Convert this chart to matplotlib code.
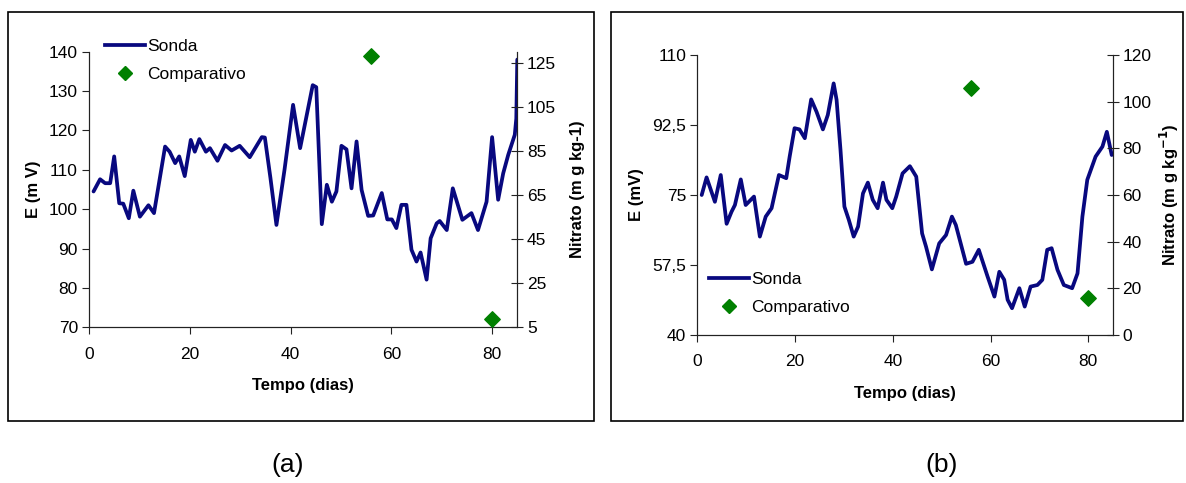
import matplotlib.pyplot as plt
from matplotlib.lines import Line2D
from matplotlib.patches import Rectangle

plt.rcParams['font.family'] = ['Liberation Sans', 'DejaVu Sans']

# painel (a)
dias_a = [0.9, 2.2, 3.2, 4.2, 5.0, 6.0, 6.8, 7.9, 8.8, 10.1, 11.8, 12.9, 15.1, 16.0,
          17.1, 17.9, 19.0, 20.2, 21.0, 21.9, 23.2, 24.0, 25.5, 27.0, 28.3, 29.9,
          31.9, 34.3, 34.9, 36.0, 37.2, 38.8, 40.5, 41.9, 44.4, 45.1, 46.2, 47.2,
          48.2, 49.1, 50.1, 51.1, 52.1, 53.1, 54.1, 55.4, 56.4, 58.1, 59.2, 60.1,
          61.0, 62.0, 63.0, 64.0, 65.0, 65.8, 67.0, 67.8, 69.0, 69.6, 71.0, 72.2,
          74.1, 75.9, 77.2, 78.9, 80.0, 81.2, 82.2, 83.2, 84.5, 84.8, 85.0]
sonda_a = [104.5, 107.6, 106.6, 106.6, 113.4, 101.5, 101.4, 97.7, 104.7, 98.1, 101.0,
           99.0, 115.9, 114.6, 111.7, 113.4, 108.4, 117.6, 114.6, 117.8, 114.6, 115.5,
           112.3, 116.3, 114.9, 116.1, 113.2, 118.3, 118.2, 108.0, 96.0, 110.0, 126.5,
           115.5, 131.5, 131.0, 96.2, 106.2, 101.9, 104.5, 116.1, 115.2, 105.3, 117.2,
           104.9, 98.3, 98.4, 104.1, 97.4, 97.4, 95.2, 101.1, 101.1, 89.7, 86.7, 89.0,
           82.1, 92.6, 96.4, 97.0, 94.7, 105.3, 97.3, 99.0, 94.7, 101.9, 118.3, 102.4,
           109.1, 113.8, 118.9, 123.0, 138.0]
comp_dias_a = [56, 80]
comp_a = [128, 8.7]

# painel (b)
dias_b = [0.9, 1.9, 3.6, 4.8, 6.0, 7.0, 7.7, 8.9, 9.9, 11.6, 12.8, 14.0, 15.2, 16.7,
          18.2, 18.9, 19.9, 20.9, 22.0, 23.3, 24.4, 25.7, 26.7, 27.9, 28.5, 29.3,
          30.1, 31.0, 32.0, 32.9, 33.9, 34.9, 35.9, 36.9, 38.0, 38.7, 39.9, 40.7,
          42.0, 43.5, 44.8, 46.0, 46.8, 48.0, 49.5, 50.9, 52.1, 52.9, 55.0, 56.3,
          57.6, 59.4, 60.8, 61.8, 62.8, 63.5, 64.4, 65.9, 67.0, 68.2, 69.6, 70.6,
          71.6, 72.5, 73.7, 75.0, 76.7, 77.8, 78.8, 79.8, 81.5, 82.9, 83.8, 84.8]
sonda_b = [75.0, 79.4, 73.3, 80.0, 67.8, 70.8, 72.5, 78.9, 72.5, 74.6, 64.6, 69.6,
           71.7, 80.0, 79.2, 84.6, 91.7, 91.4, 89.2, 98.9, 95.8, 91.4, 95.0, 102.9,
           98.8, 86.3, 72.1, 68.8, 64.6, 67.1, 75.4, 78.1, 73.8, 71.7, 78.1, 73.8,
           71.7, 74.6, 80.4, 82.2, 79.6, 65.4, 62.1, 56.4, 62.9, 65.0, 69.6, 67.5,
           57.8, 58.3, 61.3, 54.6, 49.6, 55.8, 53.8, 48.8, 46.7, 51.7, 47.1, 52.1,
           52.5, 53.8, 61.3, 61.7, 56.3, 52.5, 51.7, 55.4, 69.6, 78.8, 84.6, 87.1,
           90.8, 85.0]
comp_dias_b = [56, 80]
comp_b = [106, 15.7]

LINE = '#08087f'
GREEN = '#008000'
W, H = 1186, 483
FS = 12.5


def rect(x0, y0, x1, y1):
    # caixa em pixels (origem no topo) -> fracao da figura
    return [x0 / W, 1 - y1 / H, (x1 - x0) / W, (y1 - y0) / H]


def painel(fig, box, dias, sonda, cd, cv, ylim, yticks, yticklabels, y2lim, y2ticks,
           ylab, y2lab, pad2):
    ax = fig.add_axes(rect(*box))
    ax.plot(dias, sonda, color=LINE, lw=2.7, solid_joinstyle='round',
            solid_capstyle='round', label='Sonda')
    ax.set_xlim(0, 85)
    ax.set_ylim(*ylim)
    ax.set_xticks([0, 20, 40, 60, 80])
    ax.set_yticks(yticks)
    ax.set_yticklabels(yticklabels)
    ax.spines['top'].set_visible(False)
    for s in ax.spines.values():
        s.set_color('#222222')
    ax.tick_params(labelsize=FS, direction='out', length=5, color='#222222', pad=3)
    ax.tick_params(axis='x', pad=9)
    ax.set_xlabel('Tempo (dias)', fontsize=FS - 0.5, fontweight='bold', labelpad=12)
    ax.set_ylabel(ylab, fontsize=FS - 0.5, fontweight='bold', labelpad=6)

    ax2 = ax.twinx()
    ax2.scatter(cd, cv, marker='D', s=62, color=GREEN, zorder=3, clip_on=False)
    ax2.set_ylim(*y2lim)
    ax2.set_yticks(y2ticks)
    ax2.spines['top'].set_visible(False)
    for s in ax2.spines.values():
        s.set_color('#222222')
    ax2.tick_params(labelsize=FS, direction='inout', length=8, color='#222222', pad=3)
    ax2.set_ylabel(y2lab, fontsize=FS - 0.5, fontweight='bold', labelpad=pad2)
    return ax, ax2


fig = plt.figure(figsize=(W / 100, H / 100), dpi=100)

# molduras
for x0, x1 in [(8, 594), (611, 1183)]:
    fig.patches.append(Rectangle((x0 / W, 1 - 421 / H), (x1 - x0) / W, (421 - 12) / H,
                                 transform=fig.transFigure, fill=False,
                                 edgecolor='black', lw=1.2))

ax_a, ax2_a = painel(fig, (89, 51.7, 517.3, 327.3), dias_a, sonda_a, comp_dias_a, comp_a,
                     (70, 140), range(70, 141, 10), [str(v) for v in range(70, 141, 10)],
                     (5, 130), range(5, 126, 20), 'E (m V)', 'Nitrato (m g kg-1)', 10)
ax_b, ax2_b = painel(fig, (697.3, 55, 1112.7, 335), dias_b, sonda_b, comp_dias_b, comp_b,
                     (40, 110), [40, 57.5, 75, 92.5, 110], ['40', '57,5', '75', '92,5', '110'],
                     (0, 120), range(0, 121, 20), 'E (mV)',
                     'Nitrato (m g kg$^{\\mathbf{-1}}$)', 5)

handles = [Line2D([], [], color=LINE, lw=2.7),
           Line2D([], [], color=GREEN, marker='D', ls='none', markersize=7)]
for ax, anchor in [(ax_a, (93 / W, 1 - 27 / H)), (ax_b, (697 / W, 1 - 260 / H))]:
    ax.legend(handles, ['Sonda', 'Comparativo'], loc='upper left',
              bbox_to_anchor=anchor, bbox_transform=fig.transFigure, frameon=False,
              fontsize=FS, handlelength=2.3, handletextpad=0.1, labelspacing=0.75,
              borderpad=0.2)

fig.text(288 / W, 1 - 465 / H, '(a)', fontsize=19, ha='center', va='center')
fig.text(942 / W, 1 - 465 / H, '(b)', fontsize=19, ha='center', va='center')

fig.savefig('out.png', dpi=100)
